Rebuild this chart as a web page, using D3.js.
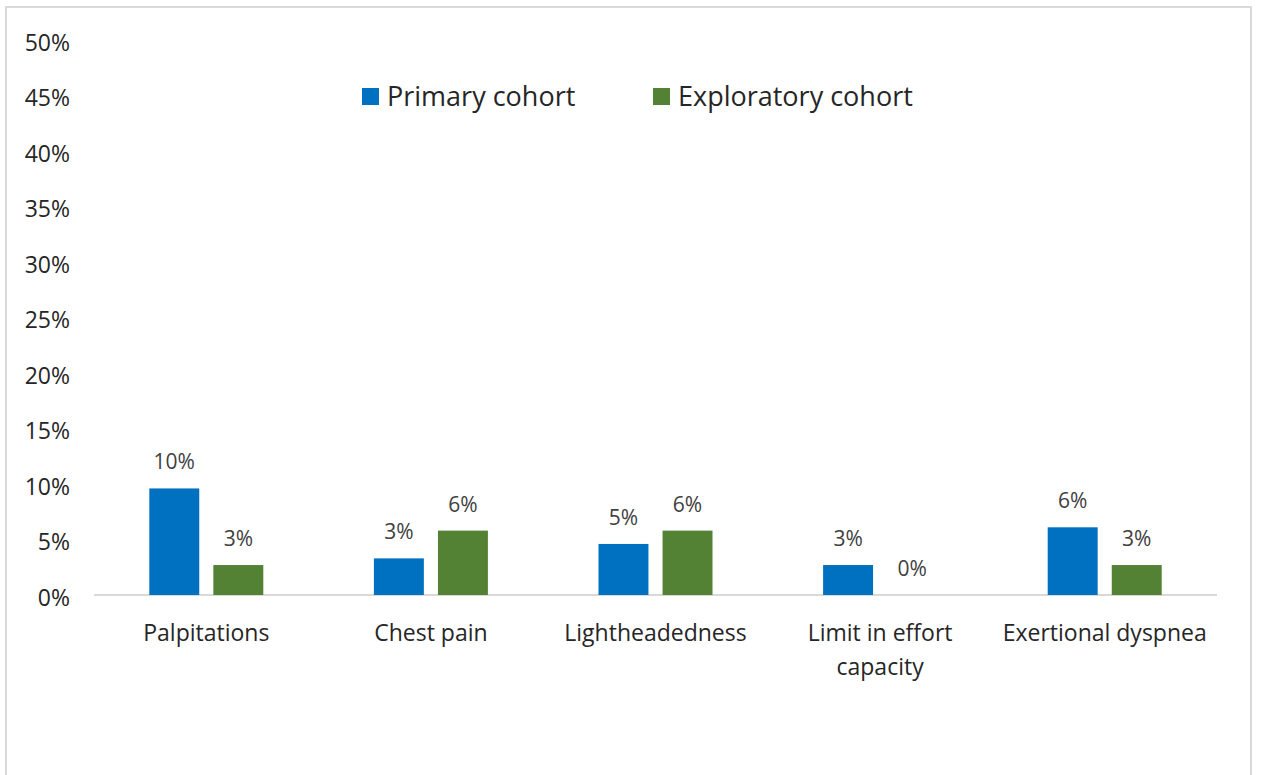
<!doctype html>
<html lang="en">
<head>
    <meta charset="UTF-8">
    <title>Symptoms by cohort</title>
    <script src="https://d3js.org/d3.v7.min.js"></script>
    <style>
        body { margin: 0; background: #fff; }
        svg text { font-family: "Open Sans", "Noto Sans", sans-serif; }
    </style>
</head>
<body>
<div id="chart"></div>
<script>

    //data
    const categories = ["Palpitations", "Chest pain", "Lightheadedness", "Limit in effort capacity", "Exertional dyspnea"];
    const series = ["Primary cohort", "Exploratory cohort"];
    const primary = [9.6, 3.3, 4.6, 2.7, 6.1];
    const exploratory = [2.7, 5.8, 5.8, 0, 2.7];
    const yTicks = [0, 5, 10, 15, 20, 25, 30, 35, 40, 45, 50];

    const colors = ["#0070C0", "#548235"];

    const width = 1261, height = 775;
    const margin = {top: 40, right: 44, bottom: 180, left: 94};

    let svg = d3.select("#chart").append("svg")
        .attr("width", width)
        .attr("height", height);

    //border
    svg.append("rect")
        .attr("x", 6).attr("y", 7)
        .attr("width", 1245).attr("height", 790)
        .attr("fill", "none")
        .attr("stroke", "#d9d9d9")
        .attr("stroke-width", 2);

    let x0 = d3.scaleBand()
        .domain(categories)
        .range([margin.left, width - margin.right]);

    let x1 = d3.scaleBand()
        .domain(series)
        .range([0, 114])
        .paddingInner(0.22);

    let y = d3.scaleLinear()
        .domain([0, 50])
        .range([height - margin.bottom, margin.top]);

    //y axis labels
    let yAxis = d3.axisLeft(y)
        .tickValues(yTicks)
        .tickFormat(d => d + "%")
        .tickSize(0)
        .tickPadding(0);

    svg.append("g")
        .attr("transform", "translate(70,3)")
        .call(yAxis)
        .call(g => g.select(".domain").remove())
        .selectAll("text")
        .attr("font-size", 23)
        .attr("fill", "#262626");

    //baseline
    svg.append("line")
        .attr("x1", margin.left).attr("x2", width - margin.right)
        .attr("y1", y(0)).attr("y2", y(0))
        .attr("stroke", "#d9d9d9")
        .attr("stroke-width", 2);

    let rows = categories.map((c, i) => ({cat: c, values: [primary[i], exploratory[i]]}));

    let groups = svg.selectAll("g.cat")
        .data(rows)
        .enter()
        .append("g")
        .attr("class", "cat")
        .attr("transform", d => "translate(" + (x0(d.cat) + (x0.bandwidth() - 114) / 2) + ",0)");

    let bars = groups.selectAll("g.bar")
        .data(d => d.values.map((v, i) => ({s: series[i], v: v, i: i})))
        .enter()
        .append("g")
        .attr("class", "bar");

    bars.append("rect")
        .attr("x", d => x1(d.s))
        .attr("y", d => y(d.v))
        .attr("width", x1.bandwidth())
        .attr("height", d => y(0) - y(d.v))
        .attr("fill", d => colors[d.i]);

    //data labels
    bars.append("text")
        .attr("x", d => x1(d.s) + x1.bandwidth() / 2)
        .attr("y", d => y(d.v) - 19)
        .attr("text-anchor", "middle")
        .attr("font-size", 21)
        .attr("fill", "#404040")
        .text(d => Math.round(d.v) + "%");

    //category labels
    let catLabels = svg.append("g").selectAll("text")
        .data(categories)
        .enter()
        .append("text")
        .attr("x", d => x0(d) + x0.bandwidth() / 2)
        .attr("y", y(0) + 46)
        .attr("text-anchor", "middle")
        .attr("font-size", 23)
        .attr("fill", "#262626");

    catLabels.each(function (d) {
        let lines = d === "Limit in effort capacity" ? ["Limit in effort", "capacity"] : [d];
        let t = d3.select(this);
        lines.forEach((l, i) => {
            t.append("tspan")
                .attr("x", t.attr("x"))
                .attr("dy", i === 0 ? 0 : 34)
                .text(l);
        });
    });

    //legend
    let legendX = [362, 653];
    let legend = svg.append("g").selectAll("g")
        .data(series)
        .enter()
        .append("g")
        .attr("transform", (d, i) => "translate(" + legendX[i] + ",88)");

    legend.append("rect")
        .attr("width", 17).attr("height", 17)
        .attr("fill", (d, i) => colors[i]);

    legend.append("text")
        .attr("x", 25)
        .attr("y", 18)
        .attr("font-size", 27)
        .attr("fill", "#262626")
        .text(d => d);

</script>
</body>
</html>
